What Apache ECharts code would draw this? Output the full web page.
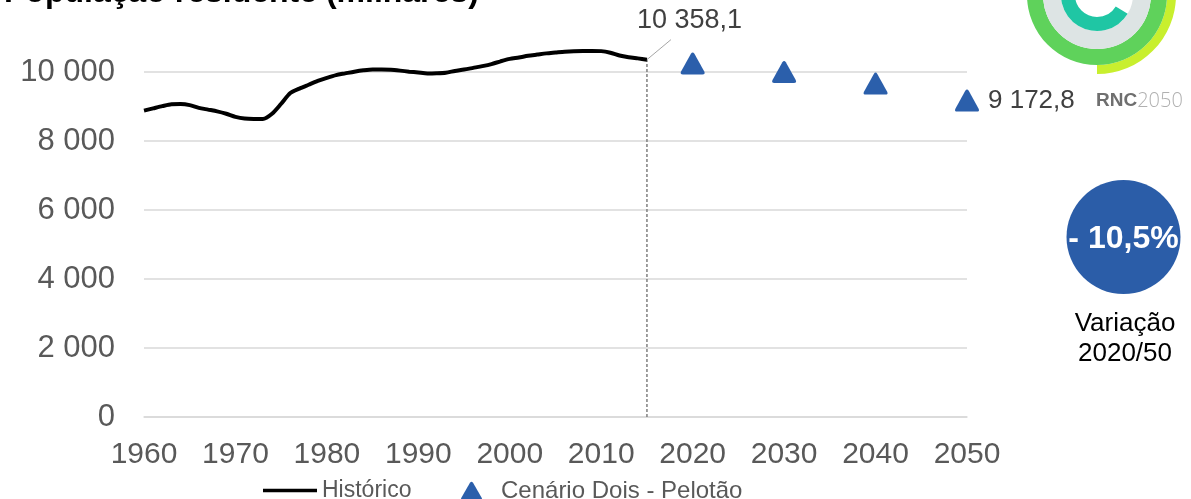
<!DOCTYPE html>
<html>
<head>
<meta charset="utf-8">
<script src="https://cdn.jsdelivr.net/npm/echarts@6/dist/echarts.min.js"></script>
<style>
  html, body { margin: 0; padding: 0; background: #fff; }
  #chart { width: 1191px; height: 499px; }
</style>
</head>
<body>
<div id="chart"></div>
<script>
// Resident population, thousands – annual history
const histYears = [
  1960, 1961, 1962, 1963, 1964, 1965, 1966, 1967, 1968, 1969,
  1970, 1971, 1972, 1973, 1974, 1975, 1976, 1977, 1978, 1979,
  1980, 1981, 1982, 1983, 1984, 1985, 1986, 1987, 1988, 1989,
  1990, 1991, 1992, 1993, 1994, 1995, 1996, 1997, 1998, 1999,
  2000, 2001, 2002, 2003, 2004, 2005, 2006, 2007, 2008, 2009,
  2010, 2011, 2012, 2013, 2014, 2015
];
const histValues = [
  8880, 8945, 9010, 9065, 9070, 9040, 8960, 8910, 8860, 8790,
  8700, 8650, 8640, 8640, 8790, 9080, 9390, 9520, 9630, 9740,
  9830, 9910, 9960, 10010, 10050, 10075, 10075, 10065, 10040, 10010,
  9985, 9960, 9965, 9980, 10030, 10070, 10120, 10170, 10230, 10310,
  10380, 10420, 10470, 10505, 10540, 10565, 10590, 10605, 10610, 10610,
  10605, 10560, 10480, 10430, 10395, 10358.1
];

// Scenario projection
const scenYears = [2020, 2030, 2040, 2050];
const scenValues = [10250, 10000, 9665, 9172.8];

const xTicks = [1960, 1970, 1980, 1990, 2000, 2010, 2020, 2030, 2040, 2050];
const yTicks = [0, 2000, 4000, 6000, 8000, 10000];

const seriesNames = ['Histórico', 'Cenário Dois - Pelotão'];
const variationText = '- 10,5%';
const variationCaption = ['Variação', '2020/50'];
const titleText = 'População residente (milhares)';

const FONT = '"Liberation Sans", Arial, sans-serif';
const BLUE = '#2b5fab';
const TRI = 'path://M10.3,1.6 Q12,-0.9 13.7,1.6 L23.3,18.3 Q24.6,21 21.5,21 L2.5,21 Q-0.6,21 0.7,18.3 Z';

// Portuguese number format: space as thousands separator, comma as decimal mark
function fmt(v, dec) {
  const s = dec ? v.toFixed(dec) : String(Math.round(v));
  const [i, d] = s.split('.');
  const g = i.replace(/\B(?=(\d{3})+(?!\d))/g, ' ');
  return d ? g + ',' + d : g;
}

const histData = histYears.map((y, i) => [y, histValues[i]]);
const last = histData[histData.length - 1];

const scenData = scenYears.map((y, i) => {
  const item = { value: [y, scenValues[i]] };
  if (i === scenYears.length - 1) {
    item.label = {
      show: true, position: 'right', distance: 9,
      formatter: (d) => fmt(d.value[1], 1),
      fontSize: 26, color: '#404040', fontFamily: FONT
    };
  }
  return item;
});

const chart = echarts.init(document.getElementById('chart'), null, { renderer: 'canvas' });

const option = {
  animation: false,
  backgroundColor: '#ffffff',
  title: {
    text: titleText,
    left: -1, top: -28,
    textStyle: { fontSize: 32, fontWeight: 'bold', color: '#000', fontFamily: FONT }
  },
  grid: { left: 144, right: 224, top: 72, bottom: 82, containLabel: false },
  legend: [
    {
      data: [{ name: seriesNames[0], icon: 'rect' }],
      left: 258, top: 474,
      itemWidth: 54, itemHeight: 3.5,
      textStyle: { fontSize: 23, color: '#595959', fontFamily: FONT }
    },
    {
      data: [{ name: seriesNames[1], icon: TRI }],
      left: 456, top: 474,
      itemWidth: 21, itemHeight: 19,
      textStyle: { fontSize: 24, color: '#595959', fontFamily: FONT, padding: [0, 0, 0, 14] }
    }
  ],
  xAxis: {
    type: 'value',
    min: xTicks[0], max: xTicks[xTicks.length - 1], interval: 10,
    axisLine: { show: true, lineStyle: { color: '#d9d9d9', width: 1.5 } },
    axisTick: { show: false },
    splitLine: { show: false },
    axisLabel: {
      fontSize: 30, color: '#595959', fontFamily: FONT, margin: 23,
      formatter: (v) => String(v)
    }
  },
  yAxis: {
    type: 'value',
    min: yTicks[0], max: yTicks[yTicks.length - 1], interval: 2000,
    axisLine: { show: false },
    axisTick: { show: false },
    splitLine: { lineStyle: { color: '#d9d9d9', width: 1.5 } },
    axisLabel: {
      fontSize: 31, color: '#595959', fontFamily: FONT, margin: 29,
      formatter: (v) => fmt(v)
    }
  },
  series: [
    {
      name: '',
      type: 'line',
      data: [[last[0], 0], [last[0], last[1]]],
      symbol: 'none',
      silent: true,
      clip: false,
      lineStyle: { color: '#7f7f7f', width: 1.5, type: [3, 2] },
      z: 1
    },
    {
      name: seriesNames[0],
      type: 'line',
      data: histData,
      symbol: 'none',
      smooth: 0.25,
      clip: false,
      lineStyle: { color: '#000', width: 4 },
      itemStyle: { color: '#000' },
      endLabel: {
        show: true, distance: 0, offset: [-10, -39],
        formatter: (d) => fmt(d.value[1], 1),
        fontSize: 27, color: '#404040', fontFamily: FONT
      },
      z: 3
    },
    {
      name: seriesNames[1],
      type: 'scatter',
      data: scenData,
      symbol: TRI,
      symbolSize: [24, 22],
      clip: false,
      itemStyle: { color: BLUE, opacity: 1 },
      z: 4
    }
  ]
};

chart.setOption(option);

// Leader line from the last historical point to its value label,
// plus the badge, caption and logo drawn beside the plot.
const p = chart.convertToPixel({ gridIndex: 0 }, last);
const logo = { cx: 1097, cy: -5 };

chart.setOption({
  graphic: [
    {
      type: 'line', silent: true, z: 5,
      shape: { x1: p[0], y1: p[1], x2: p[0] + 24, y2: p[1] - 20 },
      style: { stroke: '#a6a6a6', lineWidth: 1 }
    },
    // logo rings
    { type: 'sector', silent: true,
      shape: { cx: logo.cx, cy: logo.cy, r0: 70, r: 79, startAngle: -Math.PI / 2, endAngle: Math.PI / 2, clockwise: true },
      style: { fill: '#c8ef2e' } },
    { type: 'sector', silent: true,
      shape: { cx: logo.cx, cy: logo.cy, r0: 54, r: 70, startAngle: 0, endAngle: Math.PI * 2, clockwise: true },
      style: { fill: '#5fd25b' } },
    { type: 'sector', silent: true,
      shape: { cx: logo.cx, cy: logo.cy, r0: 36, r: 54, startAngle: 0, endAngle: Math.PI * 2, clockwise: true },
      style: { fill: '#dde4e4' } },
    { type: 'sector', silent: true,
      shape: { cx: logo.cx, cy: logo.cy, r0: 22, r: 36, startAngle: 0.55, endAngle: Math.PI * 2, clockwise: true },
      style: { fill: '#1fc6a4' } },
    {
      type: 'text', silent: true, left: 1096, top: 91,
      style: {
        text: '{a|RNC}{b|2050}',
        rich: {
          a: { fontSize: 19, fontWeight: 'bold', fill: '#6f6f6f', fontFamily: FONT },
          b: { fontSize: 20, fontWeight: 'lighter', fill: '#b0b0b0', fontFamily: '"Open Sans", ' + FONT }
        }
      }
    },
    // variation badge
    {
      type: 'circle', silent: true,
      shape: { cx: 1123.5, cy: 237, r: 57 },
      style: { fill: '#2b5da8' }
    },
    {
      type: 'text', silent: true, x: 1123.5, y: 239,
      style: {
        text: variationText, fill: '#fff', fontSize: 32, fontWeight: 'bold',
        fontFamily: FONT, align: 'center', verticalAlign: 'middle'
      }
    },
    {
      type: 'text', silent: true, x: 1125, y: 339,
      style: {
        text: variationCaption.join('\n'), fill: '#000', fontSize: 26, lineHeight: 30,
        fontFamily: FONT, align: 'center', verticalAlign: 'middle'
      }
    }
  ]
});
</script>
</body>
</html>
